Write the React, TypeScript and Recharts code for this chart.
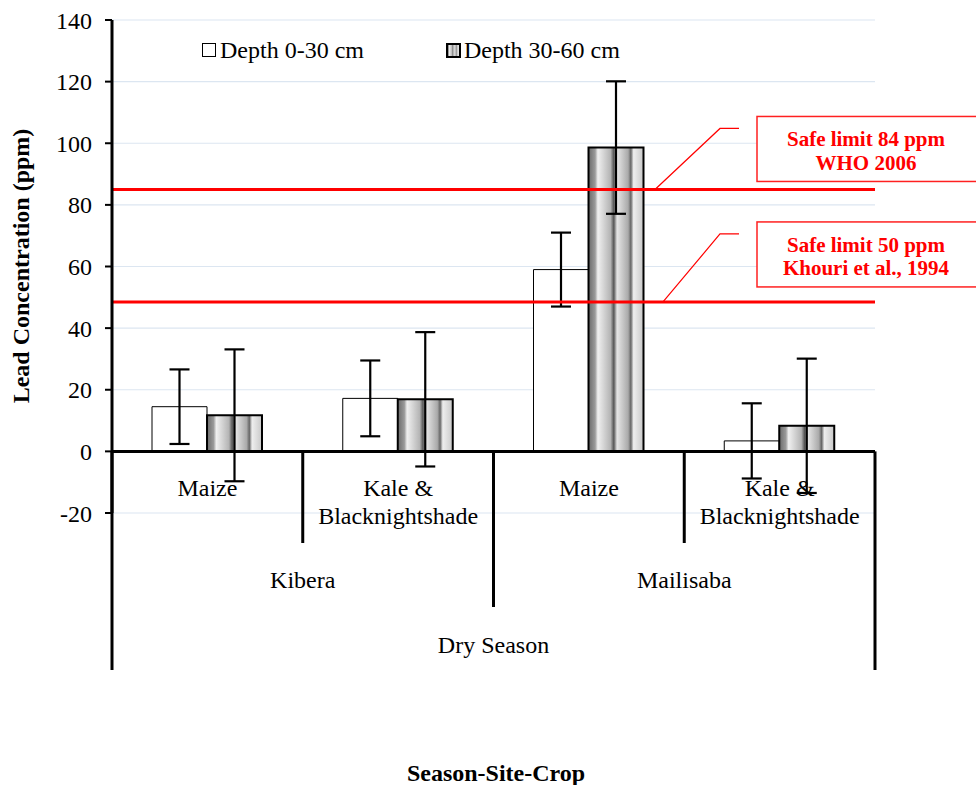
import React from 'react'
import { BarChart, Bar, XAxis, YAxis, CartesianGrid, ReferenceLine, ErrorBar, Legend } from 'recharts'

// categories (crop level), with their site and season groups
const cropLabels = [['Maize'], ['Kale &', 'Blacknightshade'], ['Maize'], ['Kale &', 'Blacknightshade']]
const sites = ['Kibera', 'Kibera', 'Mailisaba', 'Mailisaba']
const season = 'Dry Season'

// lead concentration (ppm) and error bars
const depth0to30 = [14.5, 17.2, 59, 3.4]
const depth0to30Err = [12.1, 12.3, 12, 12.2]
const depth30to60 = [11.7, 16.9, 98.6, 8.3]
const depth30to60Err = [21.4, 21.8, 21.5, 21.8]

const yTicks = [-20, 0, 20, 40, 60, 80, 100, 120, 140]

// red safe-limit lines as drawn
const limits = [
  { value: 85, lines: ['Safe limit 84 ppm', 'WHO 2006'] },
  { value: 48.5, lines: ['Safe limit 50 ppm', 'Khouri et al., 1994'] },
]

const data = cropLabels.map((c, i) => ({
  key: `${sites[i]} ${c.join(' ')}`,
  shallow: depth0to30[i],
  shallowErr: depth0to30Err[i],
  deep: depth30to60[i],
  deepErr: depth30to60Err[i],
}))

const W = 976
const H = 785
const TOP = 20
const LEFT = 112
const RIGHT = 875
const BOTTOM = 513
const BAND = (RIGHT - LEFT) / cropLabels.length
const ZERO_Y = TOP + (140 / 160) * (BOTTOM - TOP)
const FONT = '"Liberation Serif", "Times New Roman", serif'
const FS = 24

const stripeStops: [number, string][] = [
  [0, '#6a6a6a'], [0.12, '#9a9a9a'], [0.17, '#f0f0f0'], [0.4, '#b4b4b4'], [0.46, '#555555'],
  [0.52, '#e6e6e6'], [0.72, '#aaaaaa'], [0.77, '#666666'], [0.82, '#eeeeee'], [1, '#c8c8c8'],
]

function StripeGradient({ id }: { id: string }) {
  return (
    <linearGradient id={id} x1="0" y1="0" x2="1" y2="0">
      {stripeStops.map(([o, c]) => <stop key={o} offset={o} stopColor={c} />)}
    </linearGradient>
  )
}

function CropTick(props: any) {
  const { x, index } = props
  const half = BAND / 2
  const left = x - half
  const sepEnd = index === 0 ? 670 : index === 2 ? 607 : 543
  return (
    <g fontFamily={FONT} fontSize={FS} fill="#000">
      <line x1={left} y1={ZERO_Y} x2={left} y2={sepEnd} stroke="#000" strokeWidth={3} />
      {index === cropLabels.length - 1 && (
        <line x1={x + half} y1={ZERO_Y} x2={x + half} y2={670} stroke="#000" strokeWidth={3} />
      )}
      {cropLabels[index].map((l, i) => (
        <text key={i} x={x} y={496 + i * 28} textAnchor="middle">{l}</text>
      ))}
      {(index === 0 || index === 2) && (
        <text x={x + half} y={588} textAnchor="middle">{sites[index]}</text>
      )}
      {index === 1 && (
        <text x={x + half} y={653} textAnchor="middle">{season}</text>
      )}
    </g>
  )
}

function Callout(props: any) {
  const { viewBox, lines, lead, boxTop, boxBottom } = props
  const y = viewBox.y
  const cx = 866
  return (
    <g>
      <polyline
        points={`${lead[0]},${y} 720,${y - lead[1]} 739,${y - lead[1]}`}
        fill="none" stroke="#ff0000" strokeWidth={1.2}
      />
      <rect x={757} y={y - boxTop} width={240} height={boxTop - boxBottom} fill="#fff" stroke="#ff2020" strokeWidth={1.5} />
      {lines.map((l: string, i: number) => (
        <text key={i} x={cx} y={y - boxTop + 30 + i * 23.5} textAnchor="middle"
          fontFamily={FONT} fontSize={21} fontWeight="bold" fill="#ff0000">{l}</text>
      ))}
    </g>
  )
}

function LegendContent() {
  const item = (swatch: React.ReactNode, label: string, ml: number) => (
    <div style={{ display: 'flex', alignItems: 'center', marginLeft: ml }}>
      <svg width={15} height={15} style={{ marginRight: 3 }}>{swatch}</svg>
      <span>{label}</span>
    </div>
  )
  return (
    <div style={{ display: 'flex', fontFamily: FONT, fontSize: FS, color: '#000', whiteSpace: 'nowrap' }}>
      {item(<rect x={0.5} y={0.5} width={13} height={13} fill="#fff" stroke="#000" strokeWidth={1} />, 'Depth 0-30 cm', 0)}
      {item(
        <>
          <defs><StripeGradient id="stripeLegend" /></defs>
          <rect x={1} y={1} width={13} height={13} fill="url(#stripeLegend)" stroke="#000" strokeWidth={2} />
        </>,
        'Depth 30-60 cm', 82,
      )}
    </div>
  )
}

const calloutSpecs = [
  { lead: [655, 61], boxTop: 73, boxBottom: 8 },
  { lead: [663, 68], boxTop: 80, boxBottom: 15 },
]

export default function App() {
  return (
    <div style={{ position: 'absolute', left: 0, top: 0, width: W, height: H, background: '#fff' }}>
      <BarChart width={W} height={H} data={data} barGap={0} barSize={55}
        margin={{ top: TOP, right: W - RIGHT, bottom: H - BOTTOM - 30, left: LEFT - 80 }}>
        <defs><StripeGradient id="stripe" /></defs>
        <CartesianGrid vertical={false} stroke="#dce6f1" strokeWidth={1.2} />
        <XAxis dataKey="key" height={30} axisLine={false} tickLine={false} interval={0}
          tick={<CropTick />}
          label={() => (
            <text x={496} y={781} textAnchor="middle" fontFamily={FONT} fontSize={FS} fontWeight="bold">
              Season-Site-Crop
            </text>
          )} />
        <YAxis width={80} domain={[-20, 140]} ticks={yTicks} interval={0}
          axisLine={{ stroke: '#000', strokeWidth: 3 }}
          tickLine={{ stroke: '#000', strokeWidth: 2 }} tickSize={7} tickMargin={13}
          tick={{ fontFamily: FONT, fontSize: FS, fill: '#000' }}
          label={() => (
            <text x={29} y={266} transform="rotate(-90 29 266)" textAnchor="middle"
              fontFamily={FONT} fontSize={FS} fontWeight="bold">
              Lead Concentration (ppm)
            </text>
          )} />
        <Legend verticalAlign="middle" layout="horizontal" content={<LegendContent />}
          wrapperStyle={{ top: 37, left: 202, width: 'auto' }} />
        <ReferenceLine y={0} stroke="#000" strokeWidth={3} />
        <Bar dataKey="shallow" name="Depth 0-30 cm" fill="#fff" stroke="#000" strokeWidth={1} isAnimationActive={false}>
          <ErrorBar dataKey="shallowErr" direction="y" width={10} stroke="#000" strokeWidth={2.2} />
        </Bar>
        <Bar dataKey="deep" name="Depth 30-60 cm" fill="url(#stripe)" stroke="#000" strokeWidth={2} isAnimationActive={false}>
          <ErrorBar dataKey="deepErr" direction="y" width={10} stroke="#000" strokeWidth={2.2} />
        </Bar>
        {limits.map((l, i) => (
          <ReferenceLine key={i} y={l.value} stroke="#ff0000" strokeWidth={3}
            label={<Callout lines={l.lines} {...calloutSpecs[i]} />} />
        ))}
      </BarChart>
    </div>
  )
}
